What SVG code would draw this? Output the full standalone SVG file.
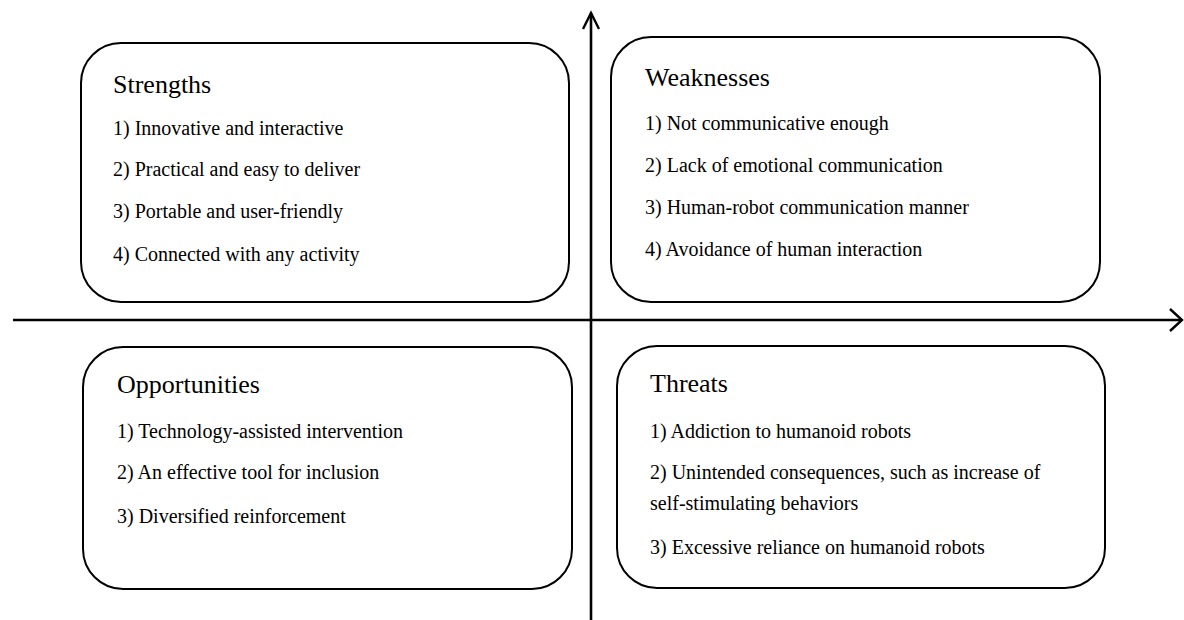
<svg xmlns="http://www.w3.org/2000/svg" width="1184" height="620" viewBox="0 0 1184 620">
<defs>
<marker id="arrUp" markerUnits="userSpaceOnUse" markerWidth="24" markerHeight="24" refX="18" refY="12" orient="auto" viewBox="0 0 24 24">
<path d="M2,4 L18,12 L2,20" fill="none" stroke="#000" stroke-width="2.4"/>
</marker>
<marker id="arrRight" markerUnits="userSpaceOnUse" markerWidth="30" markerHeight="30" refX="14" refY="15" orient="auto" viewBox="0 0 30 30">
<path d="M2,4 L14,15 L2,26" fill="none" stroke="#000" stroke-width="2.4"/>
</marker>
<style>
.box{fill:#fff;stroke:#000;stroke-width:2}
.axis{fill:none;stroke:#000;stroke-width:2.6}
.t{font-family:"Liberation Serif","Times New Roman",serif;font-size:26px;fill:#000}
.i{font-family:"Liberation Serif","Times New Roman",serif;font-size:20px;fill:#000}
</style>
</defs>
<rect width="1184" height="620" fill="#fff"/>
<g id="connectors">
<line class="axis" x1="13" y1="320" x2="1182" y2="320" marker-end="url(#arrRight)"/>
<line class="axis" x1="591" y1="620" x2="591" y2="13" marker-end="url(#arrUp)"/>
</g>
<g id="strengths">
<rect class="box" x="81" y="43" width="488" height="259" rx="40" ry="40"/>
<text class="t" x="113" y="93">Strengths</text>
<text class="i" x="113" y="135">1) Innovative and interactive</text>
<text class="i" x="113" y="176">2) Practical and easy to deliver</text>
<text class="i" x="113" y="218">3) Portable and user-friendly</text>
<text class="i" x="113" y="261">4) Connected with any activity</text>
</g>
<g id="weaknesses">
<rect class="box" x="611" y="37" width="489" height="265" rx="40" ry="40"/>
<text class="t" x="645" y="86">Weaknesses</text>
<text class="i" x="645" y="130">1) Not communicative enough</text>
<text class="i" x="645" y="172">2) Lack of emotional communication</text>
<text class="i" x="645" y="214">3) Human-robot communication manner</text>
<text class="i" x="645" y="256">4) Avoidance of human interaction</text>
</g>
<g id="opportunities">
<rect class="box" x="83" y="347" width="489" height="242" rx="40" ry="40"/>
<text class="t" x="117" y="393">Opportunities</text>
<text class="i" x="117" y="438">1) Technology-assisted intervention</text>
<text class="i" x="117" y="479">2) An effective tool for inclusion</text>
<text class="i" x="117" y="523">3) Diversified reinforcement</text>
</g>
<g id="threats">
<rect class="box" x="617" y="346" width="488" height="242" rx="40" ry="40"/>
<text class="t" x="650" y="392">Threats</text>
<text class="i" x="650" y="438">1) Addiction to humanoid robots</text>
<text class="i" x="650" y="479">2) Unintended consequences, such as increase of</text>
<text class="i" x="650" y="510">self-stimulating behaviors</text>
<text class="i" x="650" y="554">3) Excessive reliance on humanoid robots</text>
</g>
</svg>
